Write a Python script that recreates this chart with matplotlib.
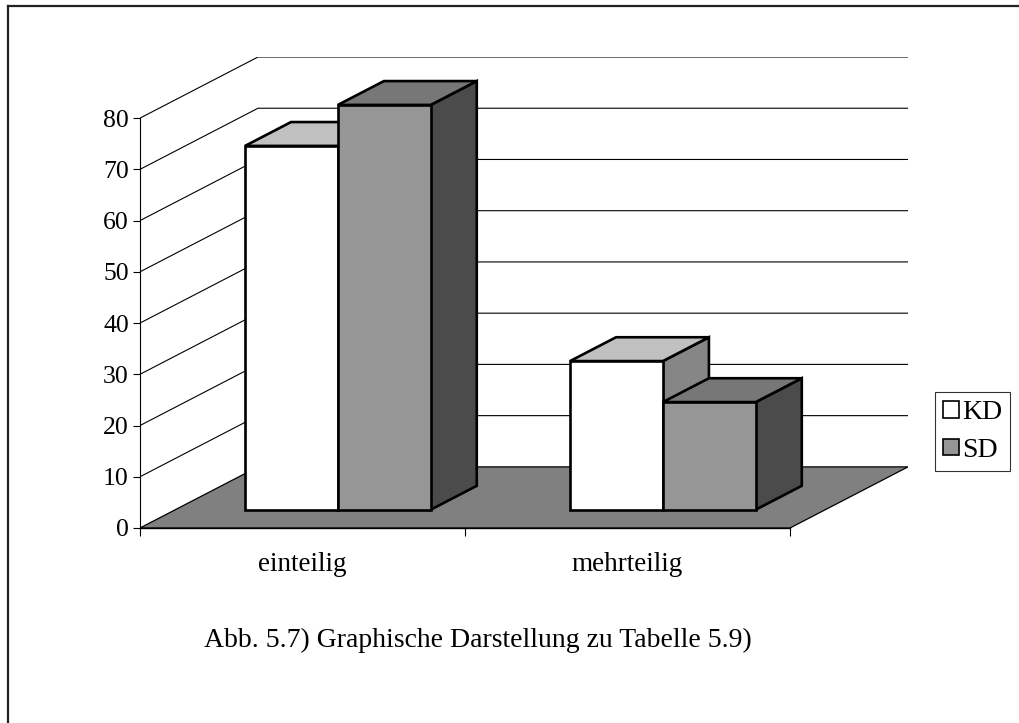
import matplotlib
matplotlib.use("Agg")
import matplotlib.pyplot as plt
from matplotlib.patches import Polygon, Patch
from matplotlib.lines import Line2D

plt.rcParams['font.family'] = ['Liberation Serif', 'DejaVu Serif']

categories = ['einteilig', 'mehrteilig']
series = ['KD', 'SD']
values = {'KD': [71, 29], 'SD': [79, 21]}
yticks = [0, 10, 20, 30, 40, 50, 60, 70, 80]
caption = 'Abb. 5.7) Graphische Darstellung zu Tabelle 5.9)'

# face colours per series: front, top, side
faces = {
    'KD': ('#ffffff', '#c0c0c0', '#868686'),
    'SD': ('#969696', '#777777', '#4b4b4b'),
}

# oblique depth of the 3d box, in data units
DX, DY = 0.363, 11.93
D0, D1 = 0.30, 0.69          # depth range occupied by the bars
GAP = 1.5                    # gap width relative to one bar
YMAX = 80


def proj(x, v, d):
    return (x + d * DX, v + d * DY)


fig = plt.figure(figsize=(10.2, 7.23), dpi=100)
ax = fig.add_axes([140 / 1020, 1 - 528 / 723, 768 / 1020, 471 / 723])
ax.set_xlim(0, len(categories) + DX)
ax.set_ylim(0, YMAX + DY)

n = len(categories)
# floor
floor = Polygon([proj(0, 0, 0), proj(n, 0, 0), proj(n, 0, 1), proj(0, 0, 1)],
                closed=True, facecolor='#808080', edgecolor='black', lw=0.9, zorder=1)
ax.add_patch(floor)

# gridlines on side and back wall
for v in yticks[1:]:
    p0, p1, p2 = proj(0, v, 0), proj(0, v, 1), proj(n, v, 1)
    ax.plot([p0[0], p1[0], p2[0]], [p0[1], p1[1], p2[1]], color='black', lw=0.8, zorder=1)

# bars, left to right so the right-hand faces overlap correctly
w = 1 / (len(series) + GAP)
for i, cat in enumerate(categories):
    start = i + GAP * w / 2
    for j, s in enumerate(series):
        h = values[s][i]
        x0, x1 = start + j * w, start + (j + 1) * w
        fc, tc, sc = faces[s]
        front = [proj(x0, 0, D0), proj(x1, 0, D0), proj(x1, h, D0), proj(x0, h, D0)]
        top = [proj(x0, h, D0), proj(x1, h, D0), proj(x1, h, D1), proj(x0, h, D1)]
        side = [proj(x1, 0, D0), proj(x1, 0, D1), proj(x1, h, D1), proj(x1, h, D0)]
        for pts, c in ((side, sc), (top, tc), (front, fc)):
            ax.add_patch(Polygon(pts, closed=True, facecolor=c, edgecolor='black',
                                 lw=1.9, joinstyle='miter', zorder=3))

for sp in ('top', 'right'):
    ax.spines[sp].set_visible(False)
ax.spines['left'].set_bounds(0, YMAX)
ax.spines['bottom'].set_bounds(0, n)
ax.spines['left'].set_linewidth(0.8)
ax.spines['bottom'].set_linewidth(1.0)
ax.spines['bottom'].set_zorder(2)

ax.set_yticks(yticks)
ax.set_yticklabels([str(t) for t in yticks], fontsize=18.5)
ax.tick_params(axis='y', direction='out', length=5, width=0.8, pad=3)
ax.set_xticks(range(n + 1))
ax.set_xticklabels([])
ax.tick_params(axis='x', which='major', direction='out', length=6, width=0.8)
ax.set_xticks([i + 0.5 for i in range(n)], minor=True)
ax.set_xticklabels(categories, minor=True, fontsize=19.5)
ax.tick_params(axis='x', which='minor', length=0, pad=17)
ax.patch.set_visible(False)

handles = [Patch(facecolor=faces[s][0], edgecolor='black', lw=1.2, label=s) for s in series]
leg = fig.legend(handles=handles, loc='upper left', bbox_to_anchor=(935 / 1020, 1 - 392 / 723),
                 fontsize=20, frameon=True, fancybox=False, handlelength=0.55, handleheight=0.55,
                 handletextpad=0.12, borderpad=0.3, labelspacing=0.45, borderaxespad=0)
leg.get_frame().set_edgecolor('black')
leg.get_frame().set_linewidth(0.8)

fig.text(204 / 1020, 1 - 628 / 723, caption, fontsize=20, ha='left', va='top')

# outer frame, left and top edges
fig.add_artist(Line2D([8 / 1020, 8 / 1020], [0, 1 - 6 / 723], color='#222222', lw=1.6))
fig.add_artist(Line2D([8 / 1020, 1], [1 - 6 / 723, 1 - 6 / 723], color='#222222', lw=1.6))

fig.savefig('out.png', dpi=100)
